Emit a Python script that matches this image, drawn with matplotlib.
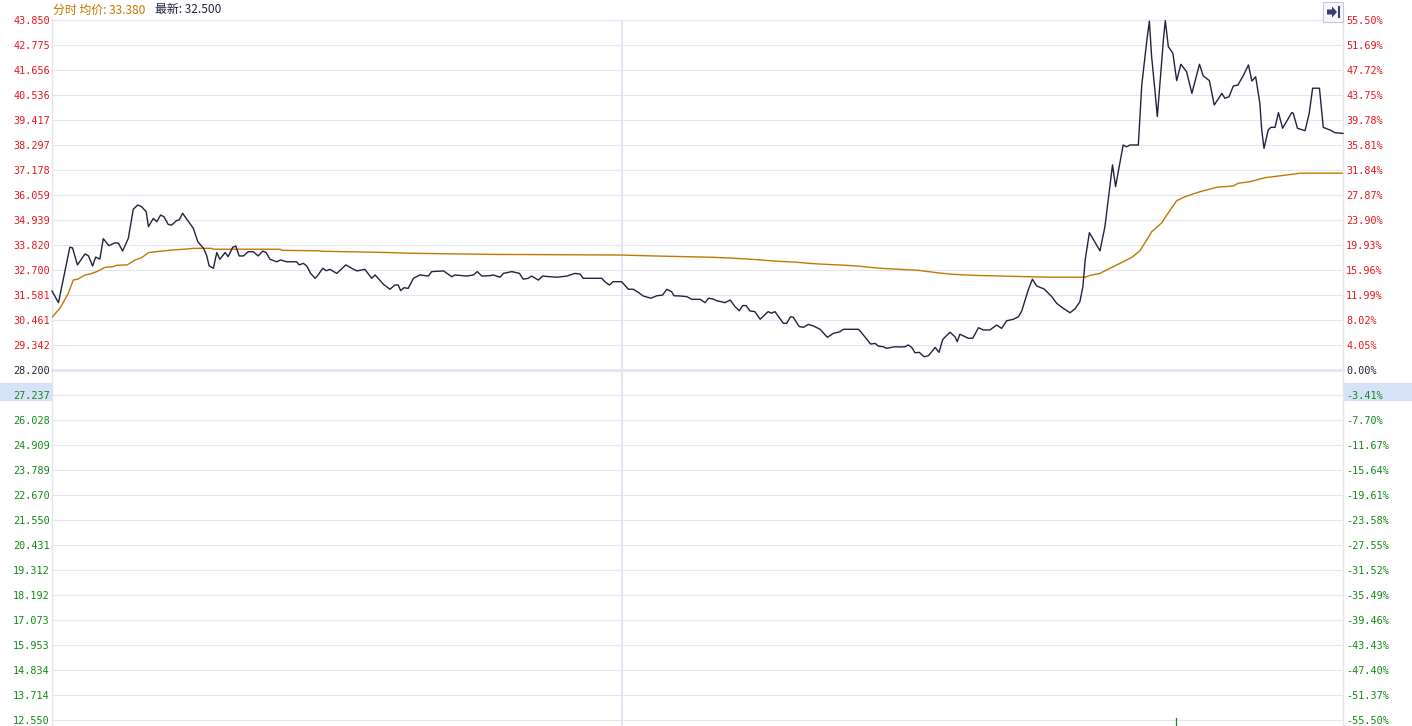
import matplotlib
matplotlib.use('Agg')
import matplotlib.pyplot as plt
import numpy as np
from matplotlib.patches import Rectangle, Polygon

# intraday session in minutes (09:30-12:00, 13:00-16:10), base price
session_minutes = 340
lunch_break = 150
prev_close = 28.200
volume_tick_time = 296

price_labels = ['12.550', '13.714', '14.834', '15.953', '17.073', '18.192', '19.312',
                '20.431', '21.550', '22.670', '23.789', '24.909', '26.028', '27.237',
                '28.200', '29.342', '30.461', '31.581', '32.700', '33.820', '34.939',
                '36.059', '37.178', '38.297', '39.417', '40.536', '41.656', '42.775',
                '43.850']
pct_labels = ['-55.50%', '-51.37%', '-47.40%', '-43.43%', '-39.46%', '-35.49%',
              '-31.52%', '-27.55%', '-23.58%', '-19.61%', '-15.64%', '-11.67%',
              '-7.70%', '-3.41%', '0.00%', '4.05%', '8.02%', '11.99%', '15.96%',
              '19.93%', '23.90%', '27.87%', '31.84%', '35.81%', '39.78%', '43.75%',
              '47.72%', '51.69%', '55.50%']

price_t = [0.0, 1.7, 4.7, 5.4, 6.7, 8.7, 9.6, 10.7, 11.5, 12.6, 13.5, 15.0, 16.6, 17.5,
           18.6, 20.1, 21.4, 22.6, 23.6, 24.8, 25.4, 26.7, 27.6, 28.6, 29.5, 30.6, 31.5,
           32.8, 33.5, 34.4, 35.5, 37.2, 38.4, 39.9, 40.7, 41.4, 42.5, 43.4, 44.2, 45.6,
           46.4, 47.6, 48.4, 49.3, 50.4, 51.7, 53.0, 54.3, 55.5, 56.4, 57.4, 59.2, 60.2,
           61.8, 64.4, 65.1, 66.2, 67.1, 68.1, 69.3, 70.1, 71.3, 72.2, 73.2, 75.0, 77.4,
           78.9, 80.3, 82.4, 84.2, 85.1, 87.3, 89.0, 90.3, 91.2, 91.8, 92.7, 93.8, 95.2,
           96.9, 99.1, 100.0, 103.1, 105.3, 106.1, 109.2, 111.0, 112.0, 113.2, 115.4,
           116.2, 118.0, 118.9, 121.1, 123.1, 124.1, 125.4, 126.3, 128.1, 129.2, 131.2,
           133.1, 135.6, 137.7, 139.1, 139.9, 144.8, 145.6, 146.8, 147.8, 150.0, 151.8,
           153.1, 154.4, 155.7, 157.7, 159.3, 160.8, 161.9, 163.2, 163.8, 165.4, 167.2,
           168.5, 170.7, 172.0, 172.9, 174.2, 175.1, 176.4, 177.2, 178.6, 179.9, 181.0,
           181.9, 182.8, 183.8, 185.1, 186.5, 188.6, 189.5, 190.4, 192.6, 193.5, 194.5,
           195.2, 196.8, 197.9, 199.2, 200.5, 202.3, 204.2, 205.8, 207.5, 208.4, 212.4,
           213.0, 214.6, 215.6, 216.8, 217.6, 218.9, 219.8, 222.0, 223.3, 224.7, 225.5,
           226.4, 227.3, 228.4, 229.7, 230.8, 232.6, 233.6, 234.6, 236.5, 237.8, 238.4,
           239.1, 241.3, 242.5, 244.0, 245.3, 247.0, 248.8, 250.1, 251.4, 253.2, 254.5,
           255.4, 256.3, 257.1, 258.2, 259.3, 261.3, 263.3, 264.6, 266.3, 268.1, 269.4,
           270.7, 271.5, 272.1, 273.2, 276.0, 277.3, 279.3, 280.1, 282.1, 283.0, 283.9,
           286.1, 287.0, 288.3, 289.0, 289.6, 290.5, 291.1, 291.8, 292.7, 293.2, 294.0,
           295.2, 296.2, 297.3, 298.8, 300.2, 302.2, 303.2, 304.8, 306.1, 308.1, 308.9,
           310.0, 311.1, 312.3, 313.7, 315.1, 316.0, 317.0, 318.1, 318.6, 319.2, 320.3,
           321.0, 322.1, 323.0, 324.1, 326.5, 326.9, 328.0, 330.0, 331.1, 332.0, 333.8,
           334.8, 336.6, 337.9, 340.0]
price_v = [31.73, 31.21, 33.69, 33.66, 32.90, 33.39, 33.30, 32.85, 33.25, 33.16, 34.07,
           33.76, 33.89, 33.87, 33.52, 34.09, 35.39, 35.58, 35.50, 35.28, 34.61, 34.98,
           34.83, 35.13, 35.05, 34.71, 34.68, 34.88, 34.91, 35.21, 34.94, 34.54, 33.94,
           33.64, 33.34, 32.85, 32.75, 33.45, 33.15, 33.45, 33.27, 33.69, 33.74, 33.30,
           33.30, 33.49, 33.49, 33.30, 33.52, 33.45, 33.15, 33.04, 33.12, 33.04, 33.04,
           32.90, 32.97, 32.85, 32.52, 32.30, 32.45, 32.75, 32.64, 32.70, 32.52, 32.90,
           32.75, 32.63, 32.70, 32.30, 32.45, 32.03, 31.81, 32.00, 32.00, 31.75, 31.88,
           31.85, 32.30, 32.45, 32.40, 32.60, 32.63, 32.37, 32.45, 32.40, 32.45, 32.60,
           32.40, 32.42, 32.45, 32.35, 32.52, 32.60, 32.52, 32.26, 32.30, 32.40, 32.22,
           32.40, 32.37, 32.35, 32.40, 32.52, 32.49, 32.30, 32.30, 32.15, 32.00, 32.15,
           32.15, 31.81, 31.81, 31.67, 31.51, 31.41, 31.52, 31.55, 31.81, 31.70, 31.52,
           31.51, 31.48, 31.36, 31.36, 31.21, 31.41, 31.37, 31.29, 31.25, 31.21, 31.33,
           31.03, 30.85, 31.08, 31.08, 30.84, 30.81, 30.47, 30.81, 30.74, 30.81, 30.29,
           30.29, 30.58, 30.56, 30.14, 30.11, 30.24, 30.17, 30.02, 29.66, 29.84, 29.91,
           30.02, 30.02, 29.91, 29.57, 29.36, 29.39, 29.27, 29.24, 29.17, 29.24, 29.23,
           29.24, 29.32, 29.21, 28.97, 28.99, 28.79, 28.84, 29.21, 28.99, 29.57, 29.89,
           29.69, 29.47, 29.80, 29.62, 29.62, 30.09, 29.99, 29.99, 30.21, 30.06, 30.40,
           30.47, 30.58, 30.84, 31.33, 31.78, 32.26, 31.96, 31.82, 31.48, 31.18, 30.96,
           30.76, 30.93, 31.25, 31.93, 33.12, 34.34, 33.53, 34.61, 37.37, 36.40, 38.26,
           38.18, 38.26, 38.26, 40.94, 42.88, 43.80, 42.21, 40.64, 39.53, 41.02, 42.96,
           43.82, 42.66, 42.36, 41.14, 41.87, 41.54, 40.57, 41.87, 41.35, 41.14, 40.05,
           40.57, 40.35, 40.42, 40.90, 40.94, 41.35, 41.84, 41.12, 41.31, 40.13, 38.93,
           38.11, 38.93, 39.05, 39.05, 39.71, 39.01, 39.71, 39.68, 39.01, 38.90, 39.68,
           40.80, 40.80, 39.05, 38.93, 38.81, 38.78]

avg_t = [0.0, 2.1, 4.3, 5.6, 6.9, 8.7, 10.0, 11.8, 14.0, 16.1, 17.0, 19.8, 21.9, 23.6,
         25.4, 28.9, 32.0, 35.6, 37.2, 42.1, 42.5, 60.1, 60.5, 70.6, 71.0, 86.8, 94.7,
         115.5, 150.0, 158.4, 174.2, 180.3, 184.3, 187.3, 191.3, 196.1, 199.2, 203.1,
         209.3, 212.8, 215.4, 218.1, 223.3, 228.1, 230.2, 234.7, 237.0, 243.1, 252.8,
         262.0, 272.1, 273.4, 276.0, 279.1, 282.1, 284.4, 286.5, 288.3, 289.6, 292.3,
         293.6, 296.2, 298.4, 302.3, 306.7, 311.1, 312.4, 315.5, 319.5, 325.2, 328.7,
         340.0]
avg_v = [30.56, 30.96, 31.63, 32.22, 32.27, 32.45, 32.49, 32.60, 32.79, 32.82, 32.88,
         32.90, 33.12, 33.22, 33.45, 33.52, 33.57, 33.61, 33.64, 33.64, 33.60, 33.60,
         33.55, 33.53, 33.51, 33.46, 33.42, 33.37, 33.34, 33.30, 33.24, 33.19, 33.15,
         33.11, 33.06, 33.02, 32.97, 32.93, 32.88, 32.84, 32.79, 32.75, 32.70, 32.66,
         32.61, 32.52, 32.48, 32.43, 32.39, 32.35, 32.35, 32.43, 32.52, 32.79, 33.04,
         33.24, 33.53, 34.01, 34.38, 34.79, 35.13, 35.77, 35.95, 36.17, 36.37, 36.43,
         36.55, 36.62, 36.80, 36.92, 37.00, 37.00]

RED = '#e8161b'
GREEN = '#128a12'
DARK = '#22223e'
ORANGE = '#c07800'
GRID = '#e4e4f2'
HILITE = '#d5e2f7'

W, H = 1412, 726


def fx(px):
    return px / W


def fy(py):
    return 1 - py / H


def label_color(i):
    if i > 14:
        return RED
    if i == 14:
        return DARK
    return GREEN


fig = plt.figure(figsize=(W / 100, H / 100), dpi=100)
fig.patch.set_facecolor('white')

# hover highlight row behind the 27.237 labels
fig.add_artist(Rectangle((fx(0), fy(400)), fx(51), 17 / H, color=HILITE, zorder=0))
fig.add_artist(Rectangle((fx(1344), fy(400)), fx(W - 1344), 17 / H, color=HILITE, zorder=0))

ax = fig.add_axes([fx(52), fy(726), fx(1343) - fx(52), fy(20) - fy(726)])
ax.set_facecolor('none')
top = 43.85
bottom = 12.55
per_px = (top - bottom) / 700
ax.set_xlim(0, session_minutes)
ax.set_ylim(bottom - 6 * per_px, top)

ticks = np.linspace(bottom, top, len(price_labels))
for i, v in enumerate(ticks):
    ax.axhline(v, color=GRID, lw=2.2 if i == 14 else 0.8, zorder=1, clip_on=False)
ax.axvline(lunch_break, color=GRID, lw=1.6, zorder=1)
ax.axvline(volume_tick_time, ymin=0, ymax=8 * per_px / (top - bottom + 6 * per_px),
           color=GREEN, lw=0.9, zorder=2)

ax.plot(avg_t, avg_v, color=ORANGE, lw=1.0, zorder=3)
ax.plot(price_t, price_v, color=DARK, lw=1.0, zorder=4, clip_on=False)

for s in ['top', 'bottom']:
    ax.spines[s].set_visible(False)
for s in ['left', 'right']:
    ax.spines[s].set_color(GRID)
    ax.spines[s].set_linewidth(1.0)

ax.set_xticks([])
ax.set_yticks(ticks)
ax.set_yticklabels(price_labels, family='DejaVu Sans Mono', fontsize=7.3)
ax.tick_params(axis='y', length=0, pad=1.5)
for i, lab in enumerate(ax.get_yticklabels()):
    lab.set_color(label_color(i))

ax2 = ax.twinx()
ax2.set_ylim(ax.get_ylim())
ax2.set_yticks(ticks)
ax2.set_yticklabels(pct_labels, family='DejaVu Sans Mono', fontsize=7.3)
ax2.tick_params(axis='y', length=0, pad=2.2)
for s in ax2.spines.values():
    s.set_visible(False)
for i, lab in enumerate(ax2.get_yticklabels()):
    lab.set_color(label_color(i))

# header
cjk = ['Noto Sans CJK SC', 'DejaVu Sans']
fig.text(fx(53), fy(10), '分时 均价: 33.380', color=ORANGE, fontsize=8.6,
         va='center', ha='left', family=cjk)
fig.text(fx(155), fy(10), '最新: 32.500', color=DARK, fontsize=8.6,
         va='center', ha='left', family=cjk)

# collapse button top right
fig.add_artist(Rectangle((fx(1323), fy(22)), fx(20), 20 / H, facecolor='#f7f7fb',
                         edgecolor='#c4c6de', lw=0.8))
arrow = [(1327, 9.5), (1332, 9.5), (1332, 6.5), (1337, 12), (1332, 17.5),
         (1332, 14.5), (1327, 14.5)]
fig.add_artist(Polygon([(fx(x), fy(y)) for x, y in arrow], closed=True,
                       facecolor='#3b3d6e', edgecolor='none'))
fig.add_artist(Rectangle((fx(1338), fy(18)), fx(2), 12 / H, facecolor='#3b3d6e',
                         edgecolor='none'))

fig.savefig('out.png', dpi=100)
